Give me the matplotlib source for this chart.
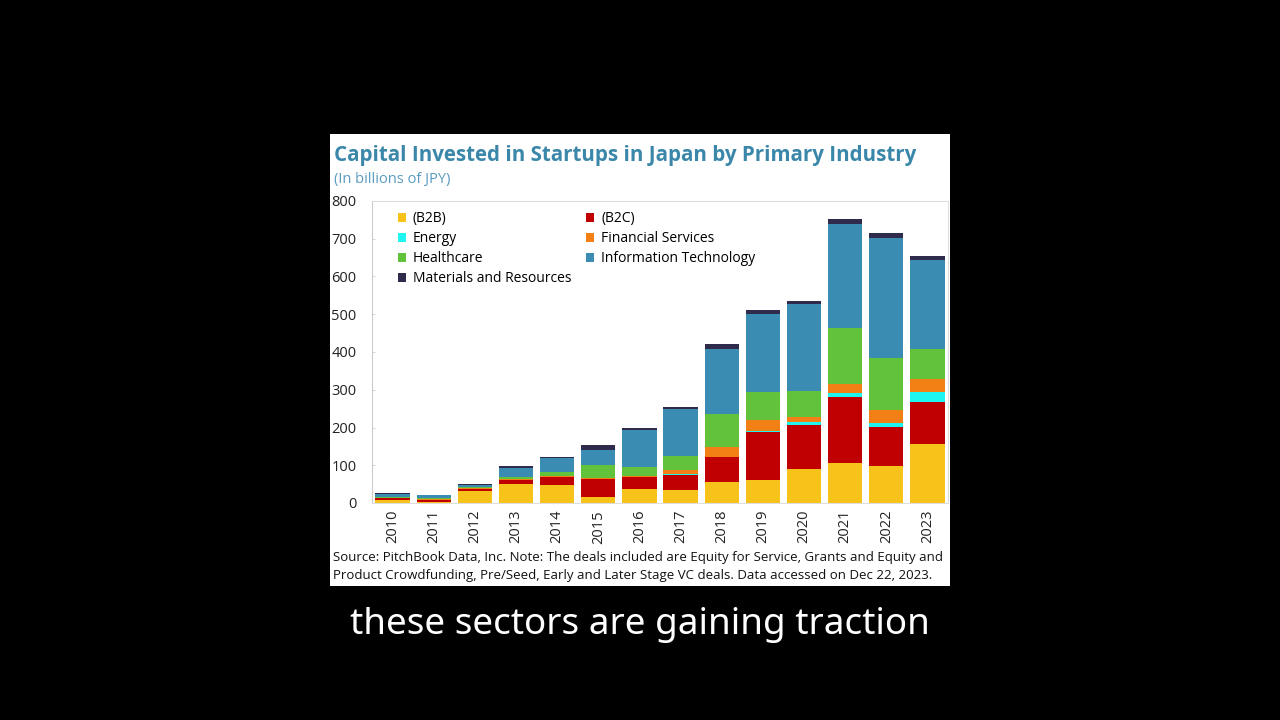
"""Recreate the Japan startup capital stacked-bar frame."""

import matplotlib

matplotlib.use("Agg")
import matplotlib.pyplot as plt
from matplotlib.patches import Rectangle

plt.rcParams["font.family"] = ["Open Sans", "DejaVu Sans"]

YEARS = ["2010", "2011", "2012", "2013", "2014", "2015", "2016",
         "2017", "2018", "2019", "2020", "2021", "2022", "2023"]

B2B = [8, 2, 33, 50, 48, 15, 36, 34, 56, 61, 89, 105, 98, 156]
B2C = [4, 6, 4, 12, 22, 49, 34, 40, 67, 128, 118, 177, 102, 111]
ENERGY = [0, 0, 0, 0, 0, 0, 0, 2, 0, 3, 8, 9, 13, 28]
FINANCIAL = [2, 3, 3, 2, 2, 3, 2, 11, 26, 28, 14, 23, 33, 33]
HEALTHCARE = [3, 3, 3, 6, 9, 34, 23, 38, 87, 75, 68, 150, 137, 80]
INFO_TECH = [7, 6, 5, 23, 37, 39, 98, 123, 172, 205, 229, 274, 318, 236]
MATERIALS = [2, 2, 2, 5, 5, 14, 5, 7, 12, 11, 9, 14, 15, 9]

SERIES = [
    ("(B2B)", B2B, "#F7C31A"),
    ("(B2C)", B2C, "#C00000"),
    ("Energy", ENERGY, "#1EF5F0"),
    ("Financial Services", FINANCIAL, "#F28014"),
    ("Healthcare", HEALTHCARE, "#63C23C"),
    ("Information Technology", INFO_TECH, "#3B8CB2"),
    ("Materials and Resources", MATERIALS, "#2F2B4C"),
]

W, H = 1280, 720
fig = plt.figure(figsize=(12.8, 7.2), dpi=100, facecolor="black")

# white slide panel, kept behind the axes
fig.patches.append(Rectangle((330 / W, 1 - 586 / H), 620 / W, 452 / H,
                             transform=fig.transFigure, facecolor="white",
                             edgecolor="none", zorder=-10))

fig.text(334 / W, 1 - 156 / H, "Capital Invested in Startups in Japan by Primary Industry",
         color="#3A87AA", fontsize=14.8, fontweight="bold", va="center", ha="left")
fig.text(334 / W, 1 - 180 / H, "(In billions of JPY)", color="#5A9CC0",
         fontsize=10.5, va="center", ha="left")

ax = fig.add_axes([372 / W, 1 - 503 / H, 576 / W, 302 / H])
ax.set_facecolor("white")
x = list(range(len(YEARS)))
bottom = [0] * len(YEARS)
handles = []
for name, vals, color in SERIES:
    bars = ax.bar(x, vals, bottom=bottom, width=0.83, color=color, label=name,
                  edgecolor="none")
    handles.append(bars)
    bottom = [b + v for b, v in zip(bottom, vals)]

ax.set_xlim(-0.5, len(YEARS) - 0.5)
ax.set_ylim(0, 800)
ax.set_yticks(range(0, 801, 100))
ax.set_xticks(x)
ax.set_xticklabels(YEARS, rotation=90)
ax.tick_params(axis="x", length=0, pad=5, labelsize=10.5, colors="#222222")
ax.tick_params(axis="y", direction="in", length=2.5, width=0.6, color="#cccccc",
               pad=11, labelsize=10.5, colors="#222222")
for side in ["top", "right", "bottom"]:
    ax.spines[side].set_color("#dddddd")
    ax.spines[side].set_linewidth(0.8)
ax.spines["left"].set_color("#cccccc")
ax.spines["left"].set_linewidth(0.8)

# legend in two columns, row-major order
order = [0, 2, 4, 6, 1, 3, 5]
ax.legend([handles[i] for i in order], [SERIES[i][0] for i in order],
          ncol=2, loc="upper left", bbox_to_anchor=(0.035, 0.985),
          frameon=False, fontsize=10, handlelength=0.6, handleheight=0.6,
          handletextpad=0.5, columnspacing=1.05, labelspacing=0.36,
          borderaxespad=0)

fig.text(333 / W, 1 - 557 / H,
         "Source: PitchBook Data, Inc. Note: The deals included are Equity for Service, Grants and Equity and",
         fontsize=9.5, color="#111111", va="center", ha="left")
fig.text(333 / W, 1 - 575 / H,
         "Product Crowdfunding, Pre/Seed, Early and Later Stage VC deals. Data accessed on Dec 22, 2023.",
         fontsize=9.5, color="#111111", va="center", ha="left")

fig.text(640 / W, 1 - 625 / H, "these sectors are gaining traction", color="white",
         fontsize=26.5, ha="center", va="center", family=["Noto Sans", "DejaVu Sans"])

fig.savefig("out.png", dpi=100, facecolor="black")
